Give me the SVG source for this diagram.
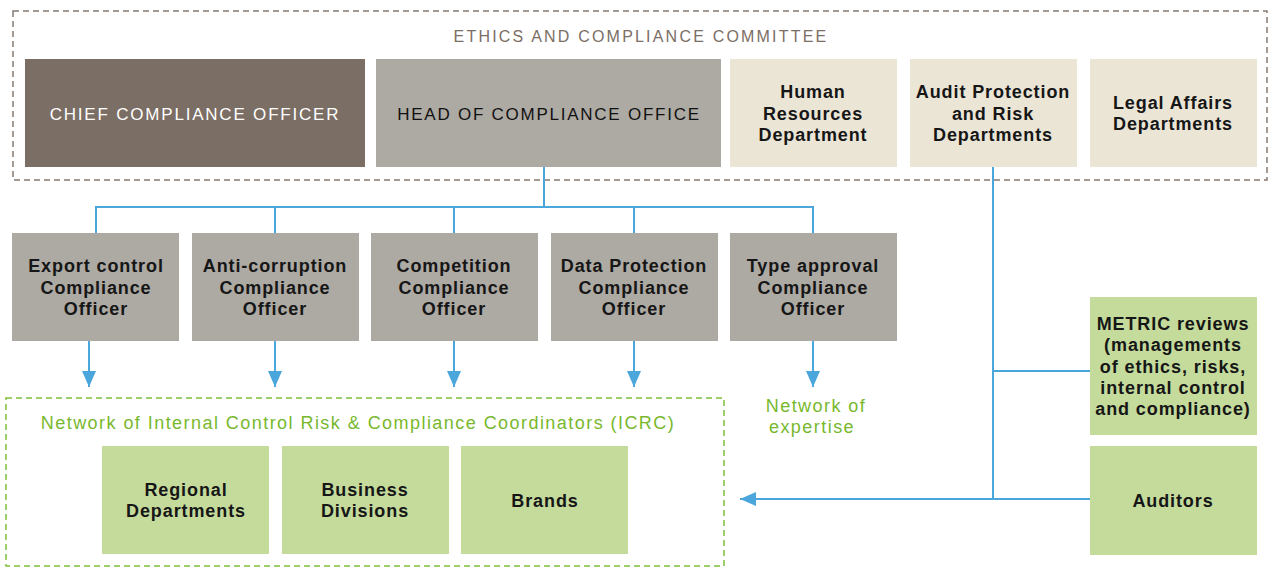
<svg xmlns="http://www.w3.org/2000/svg" width="1268" height="568" viewBox="0 0 1268 568">
<style>
text{font-family:"Liberation Sans",Arial,sans-serif;font-size:18px;font-weight:bold;letter-spacing:0.9px;fill:#161616;text-anchor:middle}
.w{fill:#ffffff;font-weight:normal;letter-spacing:1.8px;font-size:17px}
.up{font-weight:normal;letter-spacing:1.75px;font-size:17px;fill:#111111}
.t{fill:#7b6e65;font-weight:normal;letter-spacing:2.2px;font-size:16px}
.g{fill:#78b82d;font-weight:normal;letter-spacing:1.45px}
.c{stroke:#4ba6db;stroke-width:2;fill:none}
.dark{fill:#7b6e65}
.grey{fill:#ada9a3}
.beige{fill:#ebe5d6}
.green{fill:#c5db9c}
</style>
<defs>
<marker id="ah" markerUnits="userSpaceOnUse" markerWidth="16" markerHeight="14" refX="16" refY="7" orient="auto">
<path d="M0,0 L16,7 L0,14 Z" fill="#4ba6db"/>
</marker>
</defs>
<g id="committee">
<rect x="13" y="11" width="1254" height="169" fill="none" stroke="#857a72" stroke-width="1.5" stroke-dasharray="6,4"/>
<text class="t" x="641" y="42">ETHICS AND COMPLIANCE COMMITTEE</text>
</g>
<g id="icrc">
<rect x="6" y="398" width="718" height="168" fill="none" stroke="#7fc03a" stroke-width="1.5" stroke-dasharray="6,4"/>
<text class="g" x="358" y="429">Network of Internal Control Risk &amp; Compliance Coordinators (ICRC)</text>
</g>
<g id="connectors">
<path class="c" d="M544,167 V207 M96,233 V207 H813 V233 M275,207 V233 M454,207 V233 M634,207 V233"/>
<path class="c" d="M89,341 V387" marker-end="url(#ah)"/>
<path class="c" d="M275,341 V387" marker-end="url(#ah)"/>
<path class="c" d="M454,341 V387" marker-end="url(#ah)"/>
<path class="c" d="M634,341 V387" marker-end="url(#ah)"/>
<path class="c" d="M813,341 V387" marker-end="url(#ah)"/>
<path class="c" d="M993,167 V499 M993,371 H1090"/>
<path class="c" d="M1090,499 H740" marker-end="url(#ah)"/>
</g>
<g id="chief">
<rect class="dark" x="25" y="59" width="340" height="108"/>
<text class="w" x="195" y="120">CHIEF COMPLIANCE OFFICER</text>
</g>
<g id="head">
<rect class="grey" x="376" y="59" width="345" height="108"/>
<text class="up" x="549" y="120">HEAD OF COMPLIANCE OFFICE</text>
</g>
<g id="hr">
<rect class="beige" x="730" y="59" width="167" height="108"/>
<text x="813" y="98">Human</text>
<text x="813" y="120">Resources</text>
<text x="813" y="141">Department</text>
</g>
<g id="audit">
<rect class="beige" x="910" y="59" width="167" height="108"/>
<text x="993" y="98">Audit Protection</text>
<text x="993" y="120">and Risk</text>
<text x="993" y="141">Departments</text>
</g>
<g id="legal">
<rect class="beige" x="1090" y="59" width="167" height="108"/>
<text x="1173" y="109">Legal Affairs</text>
<text x="1173" y="130">Departments</text>
</g>
<g id="export">
<rect class="grey" x="12" y="233" width="167" height="108"/>
<text x="96" y="272">Export control</text>
<text x="96" y="294">Compliance</text>
<text x="96" y="315">Officer</text>
</g>
<g id="anticorruption">
<rect class="grey" x="192" y="233" width="167" height="108"/>
<text x="275" y="272">Anti-corruption</text>
<text x="275" y="294">Compliance</text>
<text x="275" y="315">Officer</text>
</g>
<g id="competition">
<rect class="grey" x="371" y="233" width="167" height="108"/>
<text x="454" y="272">Competition</text>
<text x="454" y="294">Compliance</text>
<text x="454" y="315">Officer</text>
</g>
<g id="dataprotection">
<rect class="grey" x="551" y="233" width="167" height="108"/>
<text x="634" y="272">Data Protection</text>
<text x="634" y="294">Compliance</text>
<text x="634" y="315">Officer</text>
</g>
<g id="typeapproval">
<rect class="grey" x="730" y="233" width="167" height="108"/>
<text x="813" y="272">Type approval</text>
<text x="813" y="294">Compliance</text>
<text x="813" y="315">Officer</text>
</g>
<g id="expertise">
<text class="g" x="816" y="412">Network of</text>
<text class="g" x="812" y="433">expertise</text>
</g>
<g id="metric">
<rect class="green" x="1090" y="297" width="167" height="138"/>
<text x="1173" y="330">METRIC reviews</text>
<text x="1173" y="351">(managements</text>
<text x="1173" y="373">of ethics, risks,</text>
<text x="1173" y="394">internal control</text>
<text x="1173" y="415">and compliance)</text>
</g>
<g id="auditors">
<rect class="green" x="1090" y="446" width="167" height="109"/>
<text x="1173" y="507">Auditors</text>
</g>
<g id="regional">
<rect class="green" x="102" y="446" width="167" height="108"/>
<text x="186" y="496">Regional</text>
<text x="186" y="517">Departments</text>
</g>
<g id="business">
<rect class="green" x="282" y="446" width="167" height="108"/>
<text x="365" y="496">Business</text>
<text x="365" y="517">Divisions</text>
</g>
<g id="brands">
<rect class="green" x="461" y="446" width="167" height="108"/>
<text x="545" y="507">Brands</text>
</g>
</svg>
